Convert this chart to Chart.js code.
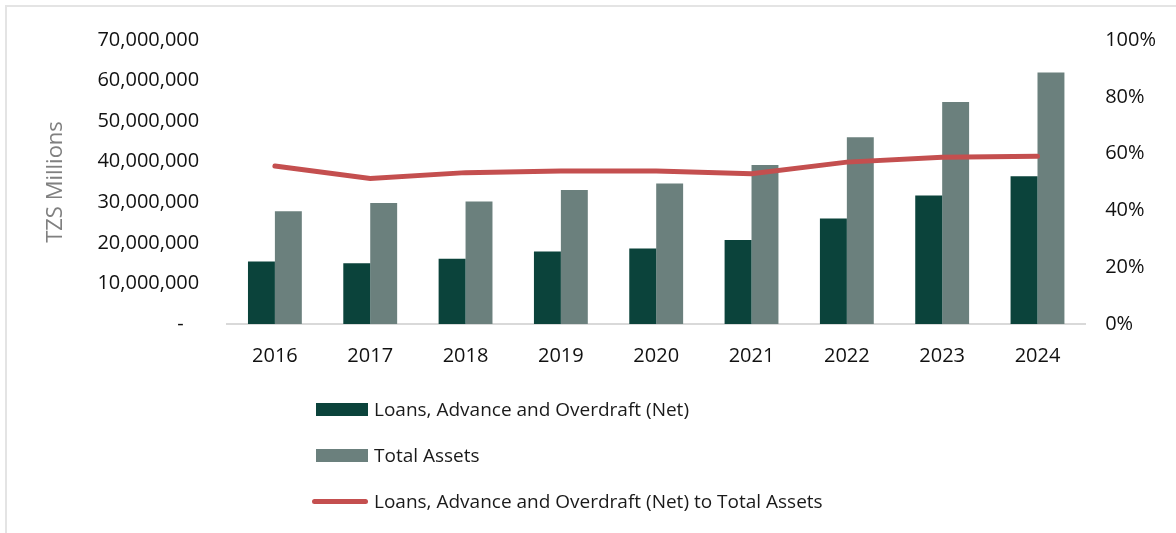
<!DOCTYPE html>
<html>
<head>
<meta charset="utf-8">
<script src="https://cdn.jsdelivr.net/npm/chart.js@4.4.1/dist/chart.umd.min.js"></script>
<style>
    html, body { margin: 0; padding: 0; background: #fff; overflow: hidden; }
    body { width: 1176px; height: 533px; position: relative; font-family: 'Open Sans', sans-serif; }
    .frame { position: absolute; left: 5px; top: 5px; width: 1200px; height: 600px; border: 2px solid #e4e4e4; box-sizing: border-box; }
    .chart-box { position: absolute; left: 0; top: 0; width: 1176px; height: 398px; }
    #legend { position: absolute; left: 316px; top: 392px; }
    .legend-row { display: flex; align-items: center; height: 34px; margin-bottom: 12px; font-size: 19px; color: #1a1a1a; }
    .legend-swatch { width: 52px; margin-right: 6px; }
</style>
</head>
<body>
<div class="frame"></div>
<div class="chart-box"><canvas id="loans-assets"></canvas></div>
<div id="legend"></div>
<script>
// Years on the x axis
const years = ['2016', '2017', '2018', '2019', '2020', '2021', '2022', '2023', '2024'];

// TZS millions
const loansNet = [15400000, 15000000, 16100000, 17900000, 18600000, 20700000, 26000000, 31700000, 36400000];
const totalAssets = [27800000, 29800000, 30200000, 33000000, 34600000, 39200000, 46000000, 54700000, 62000000];

// Loans to total assets, percent
const loansToAssets = [55.6, 51.2, 53.3, 53.9, 53.9, 52.9, 57.0, 58.7, 59.1];

const colors = {
    loans: '#0b433b',
    assets: '#6b807d',
    ratio: '#c44f4f'
};

const tickFont = { family: 'Open Sans', size: 20 };

function formatMillions(v) {
    if (v === 0) return '-   ';
    return v.toLocaleString('en-US');
}

const chart = new Chart(document.getElementById('loans-assets'), {
    type: 'bar',
    data: {
        labels: years,
        datasets: [
            {
                type: 'line',
                label: 'Loans, Advance and Overdraft (Net) to Total Assets',
                data: loansToAssets,
                yAxisID: 'yPct',
                borderColor: colors.ratio,
                backgroundColor: colors.ratio,
                borderWidth: 5,
                pointRadius: 0,
                tension: 0,
                borderCapStyle: 'round',
                order: 0
            },
            {
                label: 'Loans, Advance and Overdraft (Net)',
                data: loansNet,
                yAxisID: 'y',
                backgroundColor: colors.loans,
                order: 1
            },
            {
                label: 'Total Assets',
                data: totalAssets,
                yAxisID: 'y',
                backgroundColor: colors.assets,
                order: 2
            }
        ]
    },
    options: {
        responsive: true,
        maintainAspectRatio: false,
        animation: false,
        layout: { padding: { top: 33, left: 43, right: 0, bottom: 10 } },
        datasets: {
            bar: { categoryPercentage: 0.565, barPercentage: 1.0 }
        },
        plugins: {
            legend: { display: false },
            tooltip: { enabled: false }
        },
        scales: {
            x: {
                grid: { display: false, drawTicks: false },
                border: { display: true, color: '#d9d9d9', width: 2 },
                ticks: { color: '#111', font: { family: 'Open Sans', size: 20 }, padding: 20 }
            },
            y: {
                position: 'left',
                min: 0,
                max: 70000000,
                grid: { display: false, drawTicks: false },
                border: { display: false },
                ticks: {
                    stepSize: 10000000,
                    color: '#111',
                    font: tickFont,
                    padding: 28,
                    callback: formatMillions
                },
                title: {
                    display: true,
                    text: 'TZS Millions',
                    color: '#808080',
                    font: { family: 'Open Sans', size: 22 },
                    padding: { top: 0, bottom: 0 }
                }
            },
            yPct: {
                position: 'right',
                min: 0,
                max: 100,
                grid: { display: false, drawTicks: false },
                border: { display: false },
                ticks: {
                    stepSize: 20,
                    color: '#111',
                    font: tickFont,
                    padding: 20,
                    callback: v => v + '%'
                }
            }
        }
    }
});

// Stacked legend under the plot, built from the datasets
const legendOrder = [1, 2, 0];
const legend = document.getElementById('legend');
legendOrder.forEach(i => {
    const ds = chart.data.datasets[i];
    const row = document.createElement('div');
    row.className = 'legend-row';
    const sw = document.createElement('div');
    sw.className = 'legend-swatch';
    if (ds.type === 'line') {
        sw.style.height = '5px';
        sw.style.borderRadius = '3px';
        sw.style.background = ds.borderColor;
        sw.style.width = '56px';
        sw.style.marginLeft = '-4px';
    } else {
        sw.style.height = '13px';
        sw.style.background = ds.backgroundColor;
    }
    const txt = document.createElement('span');
    txt.textContent = ds.label;
    row.appendChild(sw);
    row.appendChild(txt);
    legend.appendChild(row);
});
</script>
</body>
</html>
